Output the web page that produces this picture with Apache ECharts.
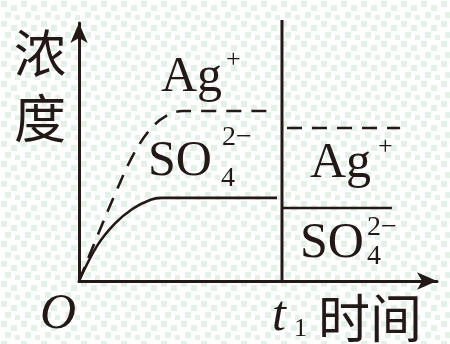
<!DOCTYPE html>
<html>
<head>
<meta charset="utf-8">
<style>
  html, body { margin: 0; padding: 0; background: #fff; }
  #main { width: 450px; height: 344px; }
</style>
</head>
<body>
<div id="main"></div>
<script src="https://cdn.jsdelivr.net/npm/echarts@6/dist/echarts.min.js"></script>
<script type="text/javascript">
    // 数据（时间, 浓度），坐标 0~10
    var agBefore = [[0, 0], [0.5, 1.7], [1.0, 3.35], [1.5, 4.85], [2.0, 5.9], [2.5, 6.45],
        [2.9, 6.59], [5.42, 6.59]];
    var so4Before = [[0, 0], [0.5, 1.35], [1.0, 2.22], [1.5, 2.8], [2.0, 3.15], [2.3, 3.22],
        [5.53, 3.22]];
    var t1 = 5.67;
    var t1Top = 10.12;
    var agAfter = [[5.81, 5.93], [8.97, 5.93]];
    var so4After = [[5.67, 2.83], [8.74, 2.83]];

    var ink = '#231815';

    // 背景淡绿色方格
    var tile = document.createElement('canvas');
    tile.width = 20;
    tile.height = 20;
    var ctx = tile.getContext('2d');
    ctx.fillStyle = '#ffffff';
    ctx.fillRect(0, 0, 20, 20);
    ctx.fillStyle = '#e3f2e6';
    ctx.fillRect(1, 1, 6, 6);
    ctx.fillRect(11, 5, 6, 6);
    ctx.fillRect(5, 12, 6, 6);
    ctx.fillRect(15, 15, 5, 5);

    var serif = '"Liberation Serif", "DejaVu Serif", serif';
    var cjk = '"Noto Sans CJK SC", sans-serif';

    function txt(text, x, y, size, family, italic) {
        return {
            type: 'text',
            x: x,
            y: y,
            silent: true,
            style: {
                text: text,
                fill: ink,
                font: (italic ? 'italic ' : '') + size + 'px ' + family,
                textVerticalAlign: 'middle'
            }
        };
    }

    var myChart = echarts.init(document.getElementById('main'));
    myChart.setOption({
        animation: false,
        backgroundColor: {image: tile, repeat: 'repeat'},
        grid: {left: 79, right: 13, top: 23, bottom: 63},
        xAxis: {
            type: 'value',
            min: 0,
            max: 10,
            axisLine: {
                show: true,
                symbol: ['none', 'arrow'],
                symbolSize: [13, 20],
                lineStyle: {color: ink, width: 3}
            },
            axisTick: {show: false},
            axisLabel: {show: false},
            splitLine: {show: false}
        },
        yAxis: {
            type: 'value',
            min: 0,
            max: 10,
            axisLine: {
                show: true,
                symbol: ['none', 'arrow'],
                symbolSize: [13, 20],
                lineStyle: {color: ink, width: 3}
            },
            axisTick: {show: false},
            axisLabel: {show: false},
            splitLine: {show: false}
        },
        series: [
            {
                type: 'line',
                data: agBefore,
                smooth: 0.35,
                showSymbol: false,
                lineStyle: {color: ink, width: 2.6, type: [15, 10]}
            },
            {
                type: 'line',
                data: so4Before,
                smooth: 0.35,
                showSymbol: false,
                lineStyle: {color: ink, width: 2.6}
            },
            {
                type: 'line',
                data: [[t1, 0], [t1, t1Top]],
                clip: false,
                showSymbol: false,
                lineStyle: {color: ink, width: 3}
            },
            {
                type: 'line',
                data: agAfter,
                showSymbol: false,
                lineStyle: {color: ink, width: 2.6, type: [15, 10]}
            },
            {
                type: 'line',
                data: so4After,
                showSymbol: false,
                lineStyle: {color: ink, width: 2.6}
            }
        ],
        graphic: [
            txt('浓', 14, 53, 52, cjk),
            txt('度', 14, 118, 52, cjk),
            txt('Ag', 161, 78, 50, serif),
            txt('+', 226, 60, 26, serif),
            txt('SO', 148, 162, 50, serif),
            txt('2−', 222, 138, 28, serif),
            txt('4', 221, 179, 28, serif),
            txt('Ag', 310, 164, 50, serif),
            txt('+', 378, 147, 26, serif),
            txt('SO', 300, 244, 50, serif),
            txt('2−', 367, 228, 28, serif),
            txt('4', 367, 257, 28, serif),
            txt('O', 40, 315, 50, serif, true),
            txt('t', 272, 317, 50, serif, true),
            txt('1', 294, 329, 26, serif),
            txt('时间', 318, 318, 52, cjk)
        ]
    });
</script>
</body>
</html>
